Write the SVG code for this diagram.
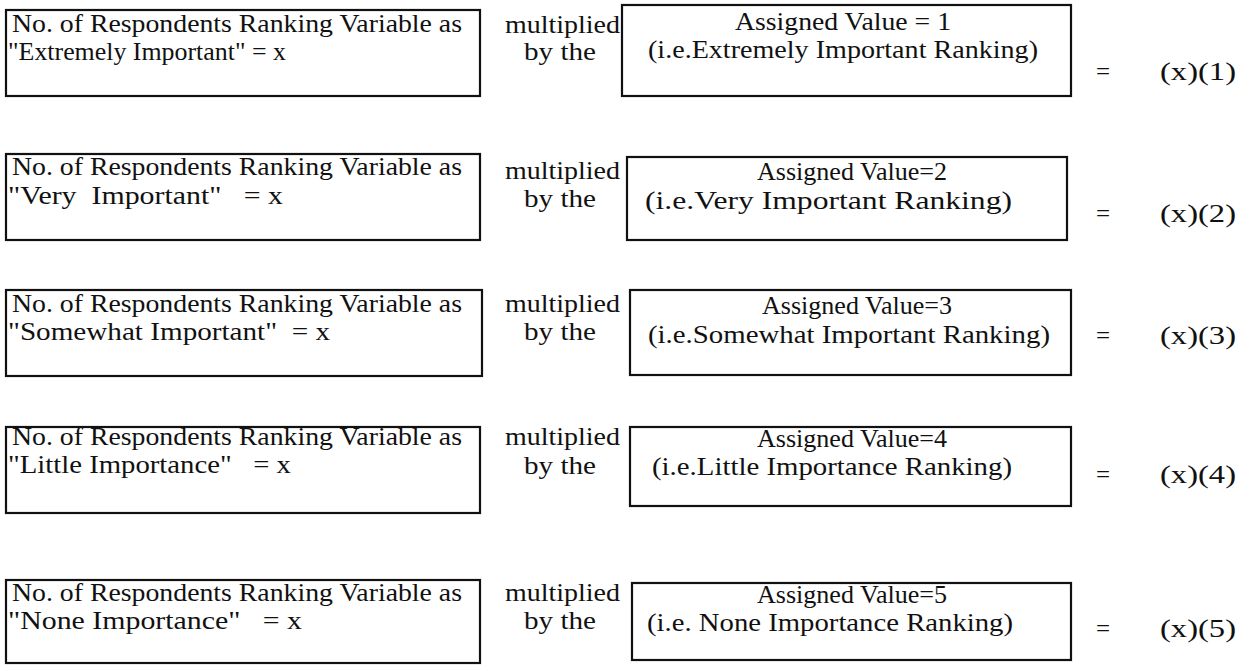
<svg xmlns="http://www.w3.org/2000/svg" width="1253" height="671" viewBox="0 0 1253 671">
  <style>
    text { font-family: "Liberation Serif", "Times New Roman", serif; font-size: 25px; fill: #111; white-space: pre; }
    .mid { text-anchor: middle; }
    .box { fill: none; stroke: #111; stroke-width: 2.2; }
  </style>
  <rect width="1253" height="671" fill="#fff"/>

  <!-- Row 1 -->
  <g id="count-1">
    <rect class="box" x="6" y="10" width="474" height="86"/>
    <text x="12" y="32" textLength="450" lengthAdjust="spacingAndGlyphs">No. of Respondents Ranking Variable as</text>
    <text x="8" y="60" textLength="278" lengthAdjust="spacingAndGlyphs">"Extremely Important" = x</text>
  </g>
  <g id="op-1">
    <text x="505" y="33" textLength="115" lengthAdjust="spacingAndGlyphs">multiplied</text>
    <text x="524" y="60" textLength="72" lengthAdjust="spacingAndGlyphs">by the</text>
  </g>
  <g id="value-1">
    <rect class="box" x="622" y="5" width="449" height="91"/>
    <text x="735" y="30" textLength="216" lengthAdjust="spacingAndGlyphs">Assigned Value = 1</text>
    <text x="648" y="58" textLength="390" lengthAdjust="spacingAndGlyphs">(i.e.Extremely Important Ranking)</text>
  </g>
  <g id="result-1">
    <text class="mid" x="1103" y="80">=</text>
    <text x="1160" y="80" textLength="76" lengthAdjust="spacingAndGlyphs">(x)(1)</text>
  </g>

  <!-- Row 2 -->
  <g id="count-2">
    <rect class="box" x="6" y="154" width="474" height="86"/>
    <text x="12" y="175" textLength="450" lengthAdjust="spacingAndGlyphs">No. of Respondents Ranking Variable as</text>
    <text x="8" y="204" textLength="275" lengthAdjust="spacingAndGlyphs">"Very  Important"   = x</text>
  </g>
  <g id="op-2">
    <text x="505" y="179" textLength="115" lengthAdjust="spacingAndGlyphs">multiplied</text>
    <text x="524" y="207" textLength="72" lengthAdjust="spacingAndGlyphs">by the</text>
  </g>
  <g id="value-2">
    <rect class="box" x="627" y="157" width="440" height="83"/>
    <text x="757" y="180" textLength="190" lengthAdjust="spacingAndGlyphs">Assigned Value=2</text>
    <text x="645" y="209" textLength="367" lengthAdjust="spacingAndGlyphs">(i.e.Very Important Ranking)</text>
  </g>
  <g id="result-2">
    <text class="mid" x="1103" y="222">=</text>
    <text x="1160" y="222" textLength="76" lengthAdjust="spacingAndGlyphs">(x)(2)</text>
  </g>

  <!-- Row 3 -->
  <g id="count-3">
    <rect class="box" x="6" y="290" width="476" height="86"/>
    <text x="12" y="312" textLength="450" lengthAdjust="spacingAndGlyphs">No. of Respondents Ranking Variable as</text>
    <text x="8" y="340" textLength="322" lengthAdjust="spacingAndGlyphs">"Somewhat Important"  = x</text>
  </g>
  <g id="op-3">
    <text x="505" y="312" textLength="115" lengthAdjust="spacingAndGlyphs">multiplied</text>
    <text x="524" y="340" textLength="72" lengthAdjust="spacingAndGlyphs">by the</text>
  </g>
  <g id="value-3">
    <rect class="box" x="630" y="290" width="441" height="85"/>
    <text x="762" y="314" textLength="190" lengthAdjust="spacingAndGlyphs">Assigned Value=3</text>
    <text x="648" y="343" textLength="402" lengthAdjust="spacingAndGlyphs">(i.e.Somewhat Important Ranking)</text>
  </g>
  <g id="result-3">
    <text class="mid" x="1103" y="344">=</text>
    <text x="1160" y="344" textLength="76" lengthAdjust="spacingAndGlyphs">(x)(3)</text>
  </g>

  <!-- Row 4 -->
  <g id="count-4">
    <rect class="box" x="6" y="427" width="474" height="86"/>
    <text x="12" y="445" textLength="450" lengthAdjust="spacingAndGlyphs">No. of Respondents Ranking Variable as</text>
    <text x="8" y="473" textLength="283" lengthAdjust="spacingAndGlyphs">"Little Importance"   = x</text>
  </g>
  <g id="op-4">
    <text x="505" y="445" textLength="115" lengthAdjust="spacingAndGlyphs">multiplied</text>
    <text x="524" y="474" textLength="72" lengthAdjust="spacingAndGlyphs">by the</text>
  </g>
  <g id="value-4">
    <rect class="box" x="630" y="427" width="441" height="79"/>
    <text x="757" y="447" textLength="190" lengthAdjust="spacingAndGlyphs">Assigned Value=4</text>
    <text x="652" y="475" textLength="360" lengthAdjust="spacingAndGlyphs">(i.e.Little Importance Ranking)</text>
  </g>
  <g id="result-4">
    <text class="mid" x="1103" y="483">=</text>
    <text x="1160" y="483" textLength="76" lengthAdjust="spacingAndGlyphs">(x)(4)</text>
  </g>

  <!-- Row 5 -->
  <g id="count-5">
    <rect class="box" x="6" y="580" width="474" height="83"/>
    <text x="12" y="601" textLength="450" lengthAdjust="spacingAndGlyphs">No. of Respondents Ranking Variable as</text>
    <text x="8" y="629" textLength="294" lengthAdjust="spacingAndGlyphs">"None Importance"   = x</text>
  </g>
  <g id="op-5">
    <text x="505" y="601" textLength="115" lengthAdjust="spacingAndGlyphs">multiplied</text>
    <text x="524" y="629" textLength="72" lengthAdjust="spacingAndGlyphs">by the</text>
  </g>
  <g id="value-5">
    <rect class="box" x="632" y="583" width="439" height="77"/>
    <text x="757" y="603" textLength="190" lengthAdjust="spacingAndGlyphs">Assigned Value=5</text>
    <text x="647" y="631" textLength="366" lengthAdjust="spacingAndGlyphs">(i.e. None Importance Ranking)</text>
  </g>
  <g id="result-5">
    <text class="mid" x="1103" y="637">=</text>
    <text x="1160" y="637" textLength="76" lengthAdjust="spacingAndGlyphs">(x)(5)</text>
  </g>
</svg>
